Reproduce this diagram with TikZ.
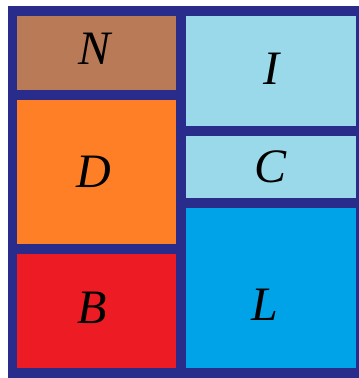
\documentclass[tikz,border=0pt]{standalone}
\usepackage{fontspec}
\setmainfont{Liberation Serif}
\usepackage{tikz}
\usetikzlibrary{positioning}
\definecolor{frameblue}{RGB}{42,44,140}
\definecolor{nbrown}{RGB}{185,122,87}
\definecolor{dorange}{RGB}{255,127,39}
\definecolor{bred}{RGB}{237,28,36}
\definecolor{pale}{RGB}{153,217,234}
\definecolor{lblue}{RGB}{0,162,232}
\tikzset{
  cell/.style ={draw=none,outer sep=0pt,inner sep=0pt,anchor=north west},
  leftcol/.style ={cell,minimum width=159pt},
  rightcol/.style={cell,minimum width=170pt},
  lbl/.style  ={inner sep=0pt,font=\fontsize{48}{48}\selectfont\itshape},
}

\begin{document}
\begin{tikzpicture}[x=1pt,y=-1pt,node distance=10pt and 10pt]
\useasboundingbox (0,0) rectangle (359,378);
\fill[frameblue] (8,6) rectangle (365,384);
% left column
\node[leftcol, fill=nbrown, minimum height=74pt,
      label={[lbl,xshift=-2pt,yshift=4pt]center:N}] (N) at (17,16) {};
\node[leftcol, fill=dorange, minimum height=144pt, below=of N.south west, anchor=north west,
      label={[lbl,xshift=-3pt]center:D}] (D) {};
\node[leftcol, fill=bred, minimum height=114pt, below=of D.south west, anchor=north west,
      label={[lbl,xshift=-4pt,yshift=3pt]center:B}] (B) {};
% right column
\node[rightcol, fill=pale, minimum height=110pt, right=of N.north east, anchor=north west,
      label={[lbl,yshift=2pt]center:I}] (I) {};
\node[rightcol, fill=pale, minimum height=62pt, below=of I.south west, anchor=north west,
      label={[lbl]center:C}] (C) {};
\node[rightcol, fill=lblue, minimum height=160pt, below=of C.south west, anchor=north west,
      label={[lbl,xshift=-6pt,yshift=-17pt]center:L}] (L) {};
\end{tikzpicture}
\end{document}
